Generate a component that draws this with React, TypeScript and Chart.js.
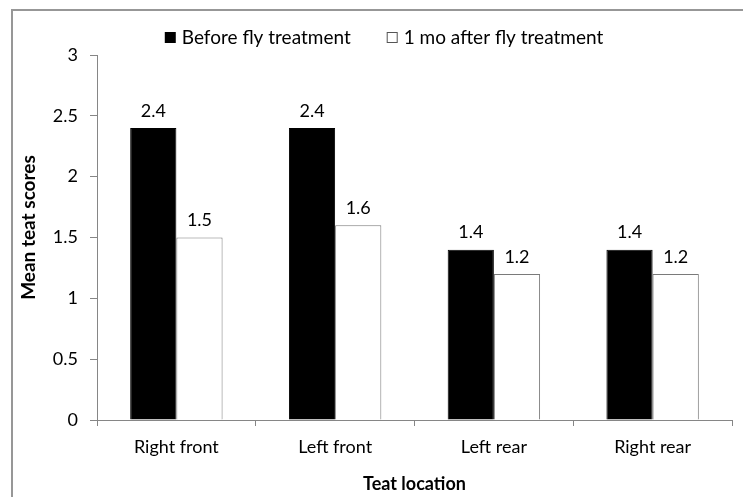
import React, { useEffect, useRef } from "react";
import { Chart, registerables } from "chart.js";

Chart.register(...registerables);

const categories = ["Right front", "Left front", "Left rear", "Right rear"];
const beforeValues = [2.4, 2.4, 1.4, 1.4];
const afterValues = [1.5, 1.6, 1.2, 1.2];
const seriesNames = ["Before fly treatment", "1 mo after fly treatment"];
const yTitle = "Mean teat scores";
const xTitle = "Teat location";

const FONT = "Lato, 'Open Sans', sans-serif";

const overlayPlugin = {
  id: "overlay",
  afterDatasetsDraw(chart: any) {
    const ctx = chart.ctx;
    ctx.save();
    // data labels
    ctx.font = `18px ${FONT}`;
    ctx.fillStyle = "#000";
    ctx.textAlign = "center";
    ctx.textBaseline = "alphabetic";
    chart.data.datasets.forEach((ds: any, di: number) => {
      const meta = chart.getDatasetMeta(di);
      meta.data.forEach((bar: any, i: number) => {
        ctx.fillText(String(ds.data[i]), bar.x, bar.y - 11.5);
      });
    });

    // legend
    ctx.font = `19px ${FONT}`;
    ctx.textAlign = "left";
    ctx.textBaseline = "middle";
    const box = 11;
    const gap = 6;
    const spacing = 36;
    const w1 = ctx.measureText(seriesNames[0]).width;
    const w2 = ctx.measureText(seriesNames[1]).width;
    const total = box + gap + w1 + spacing + box + gap + w2;
    const cx = 384;
    const cy = 37.5;
    let x = cx - total / 2;
    ctx.fillStyle = "#000";
    ctx.fillRect(x, cy - box / 2, box, box);
    x += box + gap;
    ctx.fillText(seriesNames[0], x, cy);
    x += w1 + spacing;
    ctx.fillStyle = "#fff";
    ctx.fillRect(x + 0.5, cy - box / 2 + 0.5, box - 1, box - 1);
    ctx.strokeStyle = "#555";
    ctx.lineWidth = 1;
    ctx.strokeRect(x + 0.5, cy - box / 2 + 0.5, box - 1, box - 1);
    x += box + gap;
    ctx.fillStyle = "#000";
    ctx.fillText(seriesNames[1], x, cy);

    // y title
    ctx.font = `bold 19px ${FONT}`;
    ctx.textAlign = "center";
    ctx.textBaseline = "middle";
    ctx.translate(29, 227.5);
    ctx.rotate(-Math.PI / 2);
    ctx.fillText(yTitle, 0, 0);
    ctx.restore();
  },
};

export default function App() {
  const ref = useRef<HTMLCanvasElement | null>(null);
  useEffect(() => {
    if (!ref.current) return;
    const chart = new Chart(ref.current, {
      type: "bar",
      data: {
        labels: categories,
        datasets: [
          {
            label: seriesNames[0],
            data: beforeValues,
            backgroundColor: "#000",
            borderColor: "#000",
            borderWidth: 1,
            categoryPercentage: 0.582,
            barPercentage: 1,
          },
          {
            label: seriesNames[1],
            data: afterValues,
            backgroundColor: "#fff",
            borderColor: "#7a7a7a",
            borderWidth: 1,
            categoryPercentage: 0.582,
            barPercentage: 1,
          },
        ],
      },
      options: {
        responsive: false,
        animation: false,
        layout: { padding: { left: 0, top: 55, right: 11, bottom: 0 } },
        plugins: {
          legend: { display: false },
          tooltip: { enabled: false },
        },
        scales: {
          x: {
            grid: {
              offset: true,
              drawOnChartArea: false,
              drawTicks: true,
              tickLength: 6,
              color: "#868686",
            },
            border: { color: "#868686", width: 1 },
            ticks: {
              color: "#000",
              font: { family: FONT, size: 18 },
              padding: 10,
              maxRotation: 0,
            },
            title: {
              display: true,
              text: xTitle,
              color: "#000",
              font: { family: FONT, size: 18, weight: "bold" },
              padding: { top: 0, bottom: 2 },
            },
            afterFit: (s: any) => {
              s.height = 77;
            },
          },
          y: {
            min: 0,
            max: 3,
            grid: {
              drawOnChartArea: false,
              drawTicks: true,
              tickLength: 7,
              color: "#868686",
            },
            border: { color: "#868686", width: 1 },
            ticks: {
              stepSize: 0.5,
              color: "#000",
              font: { family: FONT, size: 18 },
              padding: 12,
              callback: (v: any) => String(Number(v)),
            },
            afterFit: (s: any) => {
              s.width = 97;
            },
          },
        },
      },
      plugins: [overlayPlugin],
    } as any);
    return () => chart.destroy();
  }, []);

  return (
    <div
      style={{
        position: "absolute",
        left: 0,
        top: 0,
        width: 743,
        height: 497,
        background: "#fff",
        overflow: "hidden",
      }}
    >
      <div
        style={{
          position: "absolute",
          left: 11,
          top: 9,
          width: 800,
          height: 600,
          borderTop: "2px solid #979797",
          borderLeft: "2px solid #979797",
        }}
      />
      <canvas
        ref={ref}
        width={743}
        height={497}
        style={{ position: "absolute", left: 0, top: 0, width: 743, height: 497 }}
      />
    </div>
  );
}
